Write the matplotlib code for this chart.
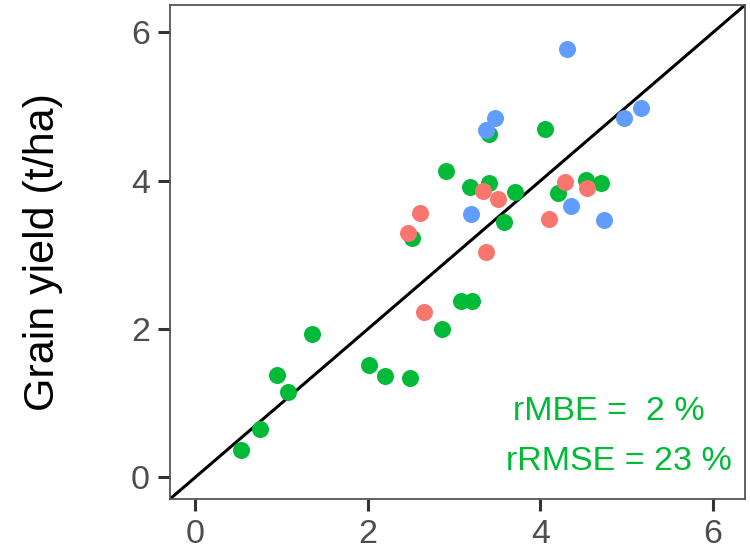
import matplotlib
matplotlib.use("Agg")
import matplotlib.pyplot as plt

plt.rcParams['font.family'] = ['Liberation Sans', 'DejaVu Sans']

# Group colours (ggplot hue palette)
col_red, col_green, col_blue = "#F8766D", "#00BA38", "#619CFF"

green_x = [0.53, 0.75, 0.95, 1.08, 1.36, 2.02, 2.20, 2.49, 2.86, 3.08, 3.21,
           2.51, 2.91, 3.18, 3.41, 3.71, 3.58, 3.40, 4.05, 4.20, 4.53, 4.70]
green_y = [0.37, 0.65, 1.38, 1.15, 1.93, 1.51, 1.37, 1.34, 2.00, 2.38, 2.38,
           3.23, 4.13, 3.91, 3.97, 3.85, 3.44, 4.63, 4.70, 3.84, 4.01, 3.97]

red_x = [2.47, 2.61, 2.65, 3.34, 3.51, 3.37, 4.10, 4.29, 4.54]
red_y = [3.29, 3.56, 2.23, 3.86, 3.76, 3.04, 3.49, 3.99, 3.90]

blue_x = [3.20, 3.37, 3.48, 4.31, 4.36, 4.74, 4.97, 5.17]
blue_y = [3.55, 4.69, 4.84, 5.78, 3.66, 3.47, 4.85, 4.98]

ticks = [0, 2, 4, 6]
lims = (-0.29, 6.37)
ylabel = "Grain yield (t/ha)"
stat_lines = ["rMBE =  2 %", "rRMSE = 23 %"]

fig = plt.figure(figsize=(7.5, 5.55), dpi=100)
ax = fig.add_axes([170/750, 1-499/555, 575/750, 494/555])

ax.plot([lims[0], lims[1]], [lims[0], lims[1]], color="black", lw=2.2, zorder=2)
ax.scatter(green_x, green_y, s=150, color=col_green, linewidths=0, zorder=3)
ax.scatter(red_x, red_y, s=150, color=col_red, linewidths=0, zorder=4)
ax.scatter(blue_x, blue_y, s=150, color=col_blue, linewidths=0, zorder=5)

ax.set_xlim(lims)
ax.set_ylim(lims)
ax.set_xticks(ticks)
ax.set_yticks(ticks)
ax.tick_params(axis='both', length=8.5, width=2.2, color="#333333",
               labelsize=24.5, labelcolor="#4D4D4D", pad=6)
for sp in ax.spines.values():
    sp.set_color("#555555")
    sp.set_linewidth(1.3)

ax.set_ylabel(ylabel, fontsize=31, color="black")
ax.yaxis.set_label_coords(-0.186, 0.5)

ax.text(3.68, 0.77, stat_lines[0], fontsize=24.5, color=col_green, ha="left", va="baseline")
ax.text(3.60, 0.10, stat_lines[1], fontsize=24.5, color=col_green, ha="left", va="baseline")

fig.savefig("out.png", dpi=100)
